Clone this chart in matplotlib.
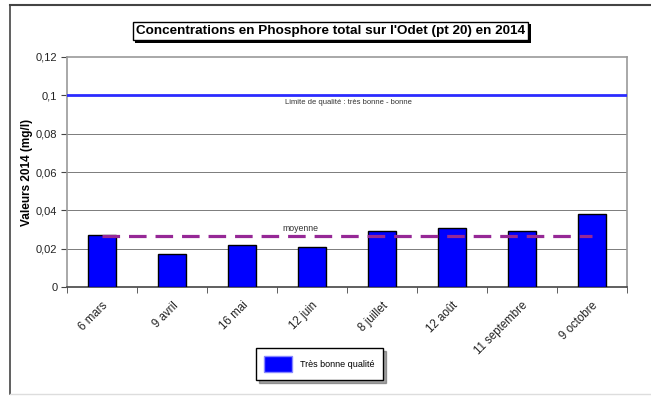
import numpy as np
import matplotlib
matplotlib.use("Agg")
import matplotlib.pyplot as plt
import matplotlib.patheffects as pe
from matplotlib.lines import Line2D
from matplotlib.patches import Patch

plt.rcParams['font.family'] = ['Liberation Sans', 'DejaVu Sans']

# Prélèvements 2014 - phosphore total (mg/l)
dates = ['6 mars', '9 avril', '16 mai', '12 juin', '8 juillet', '12 août',
         '11 septembre', '9 octobre']
valeurs = [0.027, 0.017, 0.022, 0.021, 0.029, 0.031, 0.029, 0.038]
limite = 0.1
yticks = [0, 0.02, 0.04, 0.06, 0.08, 0.1, 0.12]
ytick_labels = ['0', '0,02', '0,04', '0,06', '0,08', '0,1', '0,12']

moyenne = np.mean(valeurs)
x = np.arange(len(dates))

fig = plt.figure(figsize=(6.51, 3.97), dpi=100)
ax = fig.add_axes([67 / 651, 1 - 287 / 397, 560 / 651, 230 / 397])

ax.bar(x, valeurs, width=0.41, color='#0000ff', edgecolor='black', linewidth=1.0,
       zorder=3, label='Très bonne qualité')
ax.axhline(limite, color='#2b2bff', lw=2, zorder=4)
ax.plot([x[0], x[-1]], [moyenne, moyenne], color='#962896', lw=2.3,
        dashes=(5.5, 2.8), zorder=5)

ax.annotate('Limite de qualité : très bonne - bonne', xy=(3.52, limite),
            xytext=(0, -3), textcoords='offset points', ha='center', va='top',
            fontsize=5.5, color='#333333')
ax.annotate('moyenne', xy=(2.84, moyenne), xytext=(0, 2),
            textcoords='offset points', ha='center', va='bottom',
            fontsize=6.3, color='#333333')

ax.set_xlim(-0.5, len(dates) - 0.5)
ax.set_ylim(0, 0.12)
ax.set_yticks(yticks)
ax.set_yticklabels(ytick_labels, fontsize=8, color='#222222')
ax.set_xticks(x)
ax.set_xticklabels(dates, rotation=45, ha='right', va='top',
                   rotation_mode='anchor', fontsize=8.3, color='#222222')
ax.set_xticks(np.arange(len(dates) + 1) - 0.5, minor=True)
ax.tick_params(axis='x', which='major', length=0, pad=9)
ax.tick_params(axis='x', which='minor', length=4, direction='out', color='#444444')
ax.tick_params(axis='y', length=4, direction='out', color='#444444', pad=3)

for y in yticks[1:-2]:
    ax.axhline(y, color='#666666', lw=0.6, zorder=1)

for side in ['left', 'top', 'right']:
    ax.spines[side].set_color('#9a9a9a')
    ax.spines[side].set_linewidth(1.2)
ax.spines['bottom'].set_color('#444444')
ax.spines['bottom'].set_linewidth(1.2)

ax.set_ylabel('Valeurs 2014 (mg/l)', fontsize=8.5, fontweight='bold', labelpad=2)

# Titre encadré avec ombre portée
titre = fig.text(330.5 / 651, 1 - 31 / 397,
                 "Concentrations en Phosphore total sur l'Odet (pt 20) en 2014",
                 ha='center', va='center', fontsize=9.7, fontweight='bold',
                 bbox=dict(boxstyle='square,pad=0.25', fc='white', ec='black', lw=1))
titre.get_bbox_patch().set_path_effects([
    pe.SimplePatchShadow(offset=(2, -2), shadow_rgbFace='black', alpha=1),
    pe.Normal()])

leg = fig.legend(handles=[Patch(facecolor='#0000ff', edgecolor='#8888ff',
                                label='Très bonne qualité')],
                 loc='center', bbox_to_anchor=(319.5 / 651, 1 - 364 / 397),
                 fontsize=6.5, frameon=True, fancybox=False, shadow=True,
                 handlelength=3.1, handleheight=2.4, borderpad=0.9,
                 handletextpad=0.9, borderaxespad=0)
leg.get_frame().set_edgecolor('black')
leg.get_frame().set_linewidth(1)

# Cadre extérieur
fig.add_artist(Line2D([10 / 651, 1], [1 - 5 / 397, 1 - 5 / 397],
                      transform=fig.transFigure, color='#444444', lw=1.5))
fig.add_artist(Line2D([10 / 651, 10 / 651], [1 - 5 / 397, 1 - 394 / 397],
                      transform=fig.transFigure, color='#444444', lw=1.2))
fig.add_artist(Line2D([10 / 651, 1], [1 - 394 / 397, 1 - 394 / 397],
                      transform=fig.transFigure, color='#dddddd', lw=1))

fig.savefig('out.png', dpi=100)
